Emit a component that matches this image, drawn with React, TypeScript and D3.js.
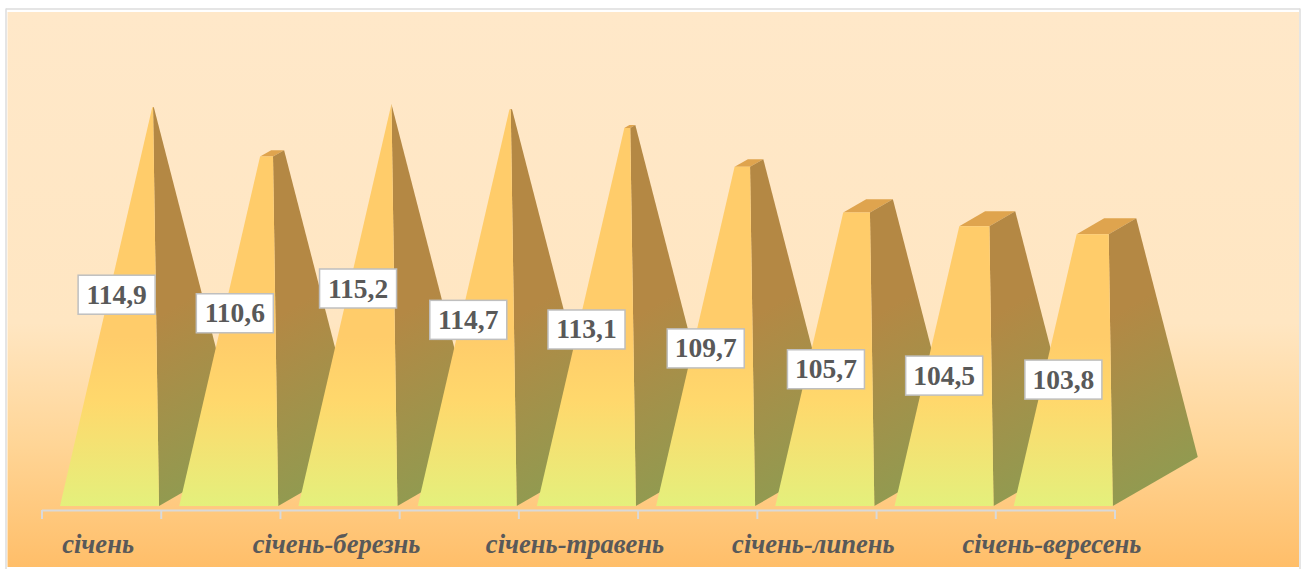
import React from "react";
import * as d3 from "d3";

const categories = ["січень", "січень-лютий", "січень-березнь", "січень-квітень", "січень-травень", "січень-червень", "січень-липень", "січень-серпень", "січень-вересень"];
const values = [114.9, 110.6, 115.2, 114.7, 113.1, 109.7, 105.7, 104.5, 103.8];
const labelShiftX = [8, 7, 11, 2, 1, 1, 2, 1, 1];
const labelShiftY = [-23, -29, -27.5, 1, 1.5, 1, -1, -1.5, -1.5];

const W = 1304, H = 569;
const base = 506, apexY = 104;
const depthX = 85, depthY = -49;

const x = d3.scaleBand<string>().domain(categories).range([42, 1115]);
const y = d3.scaleLinear().domain([80, d3.max(values)!]).range([base, apexY]);
const fmt = (v: number) => v.toFixed(1).replace(".", ",");
const line = d3.line<[number, number]>();

export default function App() {
  const step = x.step();
  return (
    <svg width={W} height={H} style={{ position: "absolute", left: 0, top: 0, background: "#fff" }}>
      <defs>
        <linearGradient id="bg" x1="0" y1="0" x2="0" y2="1">
          <stop offset="0" stopColor="#FFE8C9" />
          <stop offset="0.56" stopColor="#FFE6C2" />
          <stop offset="0.78" stopColor="#FFD596" />
          <stop offset="1" stopColor="#FFBE69" />
        </linearGradient>
        <linearGradient id="front" gradientUnits="userSpaceOnUse" x1="0" y1={base} x2="0" y2={apexY}>
          <stop offset="0" stopColor="#E4F07C" />
          <stop offset="0.26" stopColor="#FFD86C" />
          <stop offset="0.42" stopColor="#FFCC6A" />
          <stop offset="1" stopColor="#FFCC6A" />
        </linearGradient>
        {categories.map((c, i) => {
          const fr = x(c)! + 18 + 99;
          return (
            <linearGradient key={c} id={`side${i}`} gradientUnits="userSpaceOnUse" x1={fr} y1={base} x2={fr - 83} y2={base - 142}>
              <stop offset="0" stopColor="#929A50" />
              <stop offset="1" stopColor="#B48844" />
            </linearGradient>
          );
        })}
      </defs>
      <rect x={7.5} y={12} width={1291.5} height={555} fill="url(#bg)" />
      <g stroke="#DDDDDD" strokeWidth={1.5} fill="none">
        <line x1={6} x2={6} y1={8.5} y2={569} />
        <line x1={1300} x2={1300} y1={8.5} y2={569} />
        <line x1={6} x2={1300} y1={9} y2={9} />
      </g>

      {categories.map((c, i) => {
        const x0 = x(c)! + 18;
        const ax = x0 + 93;
        const t = (base - y(values[i])) / (base - apexY);
        const lerp = (a: number, b: number) => a + (b - a) * t;
        const fl: [number, number] = [lerp(x0, ax), y(values[i])];
        const fr: [number, number] = [lerp(x0 + 99, ax), y(values[i])];
        const br: [number, number] = [lerp(x0 + 99 + depthX, ax), lerp(base + depthY, apexY)];
        const bl: [number, number] = [lerp(x0 + depthX, ax), lerp(base + depthY, apexY)];
        return (
          <g key={c}>
            <path d={line([fl, fr, br, bl])! + "Z"} fill="#DFA44E" />
            <path d={line([[x0 + 99, base], [x0 + 99 + depthX, base + depthY], br, fr])! + "Z"} fill={`url(#side${i})`} />
            <path d={line([[x0, base], [x0 + 99, base], fr, fl])! + "Z"} fill="url(#front)" />
          </g>
        );
      })}

      <g stroke="#D9D9D9" strokeWidth={2} fill="none">
        <line x1={x.range()[0]} x2={x.range()[1]} y1={510.5} y2={510.5} />
        {[...categories.map((c) => x(c)!), x.range()[1]].map((t, i) => (
          <line key={i} x1={t} x2={t} y1={510} y2={519} />
        ))}
      </g>

      {categories.map((c, i) =>
        i % 2 === 0 ? (
          <text key={c} x={x(c)! + step / 2 - 3.5} y={553} textAnchor="middle" fontFamily="'Liberation Serif'" fontWeight="bold" fontStyle="italic" fontSize={26.6} fill="#595959">
            {c}
          </text>
        ) : null
      )}

      {categories.map((c, i) => {
        const cx = x(c)! + step / 2 + 7 + labelShiftX[i];
        const cy = y(values[i]) / 2 + 264 + labelShiftY[i];
        return (
          <g key={c}>
            <rect x={cx - 38.5} y={cy - 19.5} width={77} height={39} fill="#fff" stroke="#BFBFBF" strokeWidth={1.5} />
            <text x={cx} y={cy + 9} textAnchor="middle" fontFamily="'Liberation Serif'" fontWeight="bold" fontSize={27.5} fill="#595959">
              {fmt(values[i])}
            </text>
          </g>
        );
      })}
    </svg>
  );
}
